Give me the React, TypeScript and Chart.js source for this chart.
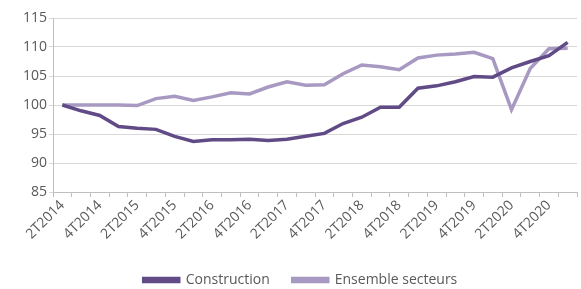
import React, { useEffect, useRef } from "react";
import { Chart, registerables } from "chart.js";

Chart.register(...registerables);

const quarters = [
  "2T2014", "3T2014", "4T2014", "1T2015", "2T2015", "3T2015", "4T2015",
  "1T2016", "2T2016", "3T2016", "4T2016", "1T2017", "2T2017", "3T2017",
  "4T2017", "1T2018", "2T2018", "3T2018", "4T2018", "1T2019", "2T2019",
  "3T2019", "4T2019", "1T2020", "2T2020", "3T2020", "4T2020", "1T2021",
];

const construction = [
  100, 99.0, 98.2, 96.3, 96.0, 95.8, 94.6, 93.7, 94.0, 94.0, 94.1, 93.9, 94.1,
  94.6, 95.1, 96.8, 97.9, 99.6, 99.6, 102.9, 103.3, 104.0, 104.9, 104.8,
  106.4, 107.5, 108.5, 110.8,
];

const ensembleSecteurs = [
  100, 100.0, 100.0, 100.0, 99.9, 101.1, 101.5, 100.8, 101.4, 102.1, 101.9,
  103.1, 104.0, 103.4, 103.5, 105.4, 106.9, 106.6, 106.1, 108.1, 108.6, 108.8,
  109.1, 108.0, 99.2, 106.3, 109.7, 109.8,
];

const yTicks = [85, 90, 95, 100, 105, 110, 115];

const legendShift = {
  id: "legendShift",
  afterLayout(chart: any) {
    if (chart.legend) {
      chart.legend.left += 12;
      chart.legend.right += 12;
    }
  },
};

export default function App() {
  const ref = useRef<HTMLCanvasElement | null>(null);

  useEffect(() => {
    document.body.style.margin = "0";
    const canvas = ref.current;
    if (!canvas) return;
    const textColor = "#595959";
    const font = { family: "'Open Sans', sans-serif", size: 14 };
    const chart = new Chart(canvas, {
      type: "line",
      data: {
        labels: quarters,
        datasets: [
          {
            label: "Construction",
            data: construction,
            borderColor: "#614b86",
            backgroundColor: "#614b86",
            borderWidth: 3.5,
            pointRadius: 0,
            tension: 0,
          },
          {
            label: "Ensemble secteurs",
            data: ensembleSecteurs,
            borderColor: "#a799c2",
            backgroundColor: "#a799c2",
            borderWidth: 3.5,
            pointRadius: 0,
            tension: 0,
          },
        ],
      },
      plugins: [legendShift],
      options: {
        animation: false,
        responsive: false,
        maintainAspectRatio: false,
        layout: { padding: { left: 0, right: 4, top: 18, bottom: -8 } },
        plugins: {
          tooltip: { enabled: false },
          legend: {
            position: "bottom",
            labels: {
              boxWidth: 35,
              boxHeight: 3,
              padding: 23,
              color: textColor,
              font,
            },
          },
        },
        scales: {
          x: {
            offset: true,
            grid: {
              display: true,
              drawOnChartArea: false,
              drawTicks: true,
              tickLength: 5,
              offset: true,
              color: "#bfbfbf",
            },
            border: { color: "#bfbfbf" },
            ticks: {
              autoSkip: false,
              minRotation: 45,
              maxRotation: 45,
              color: textColor,
              font,
              padding: 0,
              callback: (_v: any, i: number) => (i % 2 === 0 ? quarters[i] : ""),
            },
            afterFit: (s: any) => {
              s.height = 58;
            },
          },
          y: {
            min: 85,
            max: 115,
            afterBuildTicks: (s: any) => {
              s.ticks = yTicks.map((v) => ({ value: v }));
            },
            grid: { color: "#d9d9d9", tickLength: 4 },
            border: { color: "#bfbfbf" },
            ticks: { color: textColor, font, padding: 2 },
            afterFit: (s: any) => {
              s.width = 53;
            },
          },
        },
      },
    } as any);
    return () => chart.destroy();
  }, []);

  return <canvas ref={ref} width={581} height={289} style={{ display: "block" }} />;
}
